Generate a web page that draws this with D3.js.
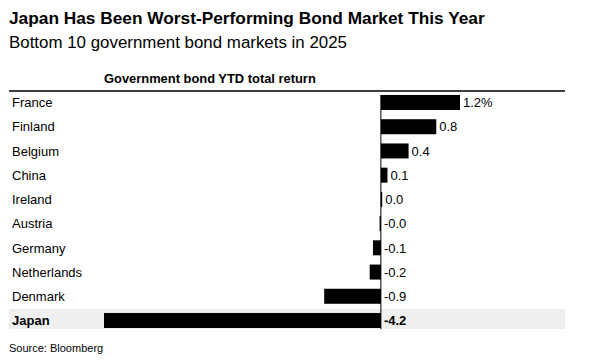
<!DOCTYPE html>
<html><head><meta charset="utf-8">
<script src="https://cdn.jsdelivr.net/npm/d3@7"></script>
<style>
html,body{margin:0;padding:0;background:#fff;}
text{font-family:"Liberation Sans",Arial,Helvetica,sans-serif;fill:#000;}
</style></head>
<body>
<svg id="chart" width="595" height="360"></svg>
<script>
const countries = ["France","Finland","Belgium","China","Ireland","Austria","Germany","Netherlands","Denmark","Japan"];
const returns = [1.2, 0.84, 0.42, 0.1, 0.02, -0.02, -0.12, -0.17, -0.86, -4.2];
const valueLabels = ["1.2%","0.8","0.4","0.1","0.0","-0.0","-0.1","-0.2","-0.9","-4.2"];
const highlight = "Japan";

const data = countries.map((c,i)=>({c, v:returns[i], label:valueLabels[i]}));
const svg = d3.select("#chart");

svg.append("text").attr("x",9).attr("y",24).attr("font-size",17.3).attr("font-weight","bold")
  .text("Japan Has Been Worst-Performing Bond Market This Year");
svg.append("text").attr("x",9).attr("y",48).attr("font-size",16.9)
  .text("Bottom 10 government bond markets in 2025");

const x = d3.scaleLinear().domain([d3.min(returns), d3.max(returns)]).range([104, 460]);
const y = d3.scaleBand().domain(countries).range([95, 328]).paddingInner(0.38);

svg.append("text").attr("x",x(d3.min(returns))).attr("y",82.5).attr("font-size",12.9).attr("font-weight","bold")
  .text("Government bond YTD total return");

svg.append("line").attr("x1",9).attr("x2",565).attr("y1",91).attr("y2",91)
  .attr("stroke","#000").attr("stroke-width",1.5);

// highlight band
svg.append("rect").attr("x",9).attr("width",556)
  .attr("y",y(highlight)-4).attr("height",y.bandwidth()+5).attr("fill","#efefef");

const x0 = x(0);
svg.append("line").attr("x1",x0).attr("x2",x0).attr("y1",y(countries[0])).attr("y2",y(highlight)+y.bandwidth()+1)
  .attr("stroke","#000").attr("stroke-width",1);

svg.selectAll("rect.bar").data(data).join("rect").attr("class","bar")
  .attr("x",d=>Math.min(x(d.v),x0)).attr("width",d=>Math.abs(x(d.v)-x0))
  .attr("y",d=>y(d.c)).attr("height",y.bandwidth()).attr("fill","#000");

svg.selectAll("text.cat").data(data).join("text").attr("class","cat")
  .attr("x",12).attr("y",d=>y(d.c)+y.bandwidth()/2).attr("dy","0.36em")
  .attr("font-size",13).attr("font-weight",d=>d.c===highlight?"bold":"normal")
  .text(d=>d.c);

svg.selectAll("text.val").data(data).join("text").attr("class","val")
  .attr("x",d=>Math.max(x(d.v),x0)+3).attr("y",d=>y(d.c)+y.bandwidth()/2).attr("dy","0.36em")
  .attr("font-size",13).attr("font-weight",d=>d.c===highlight?"bold":"normal")
  .text(d=>d.label);

svg.append("text").attr("x",9).attr("y",352).attr("font-size",11).text("Source: Bloomberg");
</script>
</body></html>
